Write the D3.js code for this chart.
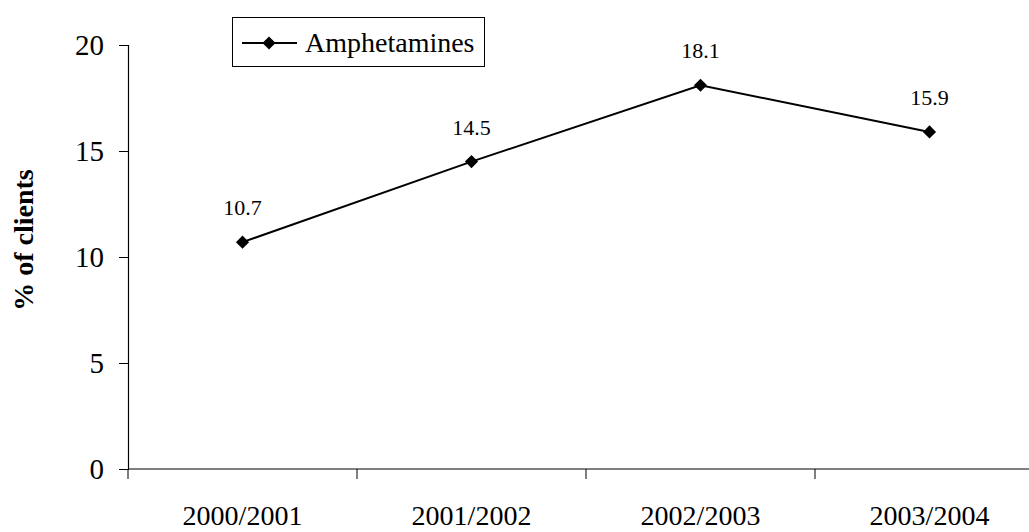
<!DOCTYPE html>
<html>
<head>
<meta charset="utf-8">
<script src="https://cdn.jsdelivr.net/npm/d3@7"></script>
<style>
  body { margin: 0; background: #fff; }
  svg { display: block; font-family: "Liberation Serif", "DejaVu Serif", serif; }
</style>
</head>
<body>
<svg id="chart" width="1029" height="532"></svg>
<script>
// data
var years = ["2000/2001", "2001/2002", "2002/2003", "2003/2004"];
var amphetamines = [10.7, 14.5, 18.1, 15.9];
var yTicks = [0, 5, 10, 15, 20];
var seriesName = "Amphetamines";

var svg = d3.select("#chart");
var plotLeft = 128, plotRight = 1044, plotTop = 45, plotBottom = 469;
var serif = "Liberation Serif, DejaVu Serif, serif";

var x = d3.scaleBand().domain(years).range([plotLeft, plotRight]).padding(0);
var y = d3.scaleLinear().domain([0, 20]).range([plotBottom, plotTop]);

// y axis
var yAxis = svg.append("g")
  .attr("transform", "translate(" + plotLeft + ",0)")
  .call(d3.axisLeft(y).tickValues(yTicks).tickSize(9).tickPadding(15))
  .attr("font-family", serif)
  .attr("font-size", 29);
yAxis.select(".domain").attr("stroke", "#000").attr("stroke-width", 1.2);
yAxis.selectAll(".tick line").attr("stroke", "#000");
yAxis.selectAll(".tick text").attr("fill", "#000");

// x axis: line + ticks at band edges, labels under bands
var xg = svg.append("g").attr("font-family", serif);
xg.append("line")
  .attr("x1", plotLeft).attr("x2", plotRight)
  .attr("y1", plotBottom).attr("y2", plotBottom)
  .attr("stroke", "#000").attr("stroke-width", 1.2);
var edges = years.map(function(d) { return x(d); });
edges.push(plotRight);
xg.selectAll("line.tk")
  .data(edges)
  .enter().append("line")
  .attr("class", "tk")
  .attr("x1", function(d) { return d; })
  .attr("x2", function(d) { return d; })
  .attr("y1", plotBottom)
  .attr("y2", plotBottom + 10)
  .attr("stroke", "#000");
xg.selectAll("text")
  .data(years)
  .enter().append("text")
  .attr("x", function(d) { return x(d) + x.bandwidth() / 2; })
  .attr("y", 525)
  .attr("text-anchor", "middle")
  .attr("font-size", 28)
  .text(function(d) { return d; });

// y label
svg.append("text")
  .attr("transform", "translate(33,240) rotate(-90)")
  .attr("text-anchor", "middle")
  .attr("font-size", 28)
  .attr("font-weight", "bold")
  .text("% of clients");

// series
var pts = years.map(function(d, i) { return { cat: d, v: amphetamines[i] }; });
var cx = function(d) { return x(d.cat) + x.bandwidth() / 2; };

svg.append("path")
  .datum(pts)
  .attr("fill", "none")
  .attr("stroke", "#000")
  .attr("stroke-width", 2)
  .attr("d", d3.line().x(cx).y(function(d) { return y(d.v); }));

var diamond = d3.symbol().type(d3.symbolDiamond2 || d3.symbolDiamond).size(110);

svg.selectAll("path.mk")
  .data(pts)
  .enter().append("path")
  .attr("class", "mk")
  .attr("d", diamond)
  .attr("transform", function(d) { return "translate(" + cx(d) + "," + y(d.v) + ")"; })
  .attr("fill", "#000");

svg.selectAll("text.lbl")
  .data(pts)
  .enter().append("text")
  .attr("class", "lbl")
  .attr("x", cx)
  .attr("y", function(d) { return y(d.v) - 27; })
  .attr("text-anchor", "middle")
  .attr("font-size", 22)
  .text(function(d) { return d.v.toFixed(1); });

// legend
var lg = svg.append("g");
lg.append("rect")
  .attr("x", 232.5).attr("y", 17.5)
  .attr("width", 252).attr("height", 49)
  .attr("fill", "#fff").attr("stroke", "#000");
lg.append("line")
  .attr("x1", 242).attr("x2", 297)
  .attr("y1", 43).attr("y2", 43)
  .attr("stroke", "#000").attr("stroke-width", 2);
lg.append("path")
  .attr("d", diamond)
  .attr("transform", "translate(269,43)")
  .attr("fill", "#000");
lg.append("text")
  .attr("x", 305).attr("y", 52)
  .attr("font-size", 28)
  .text(seriesName);
</script>
</body>
</html>
